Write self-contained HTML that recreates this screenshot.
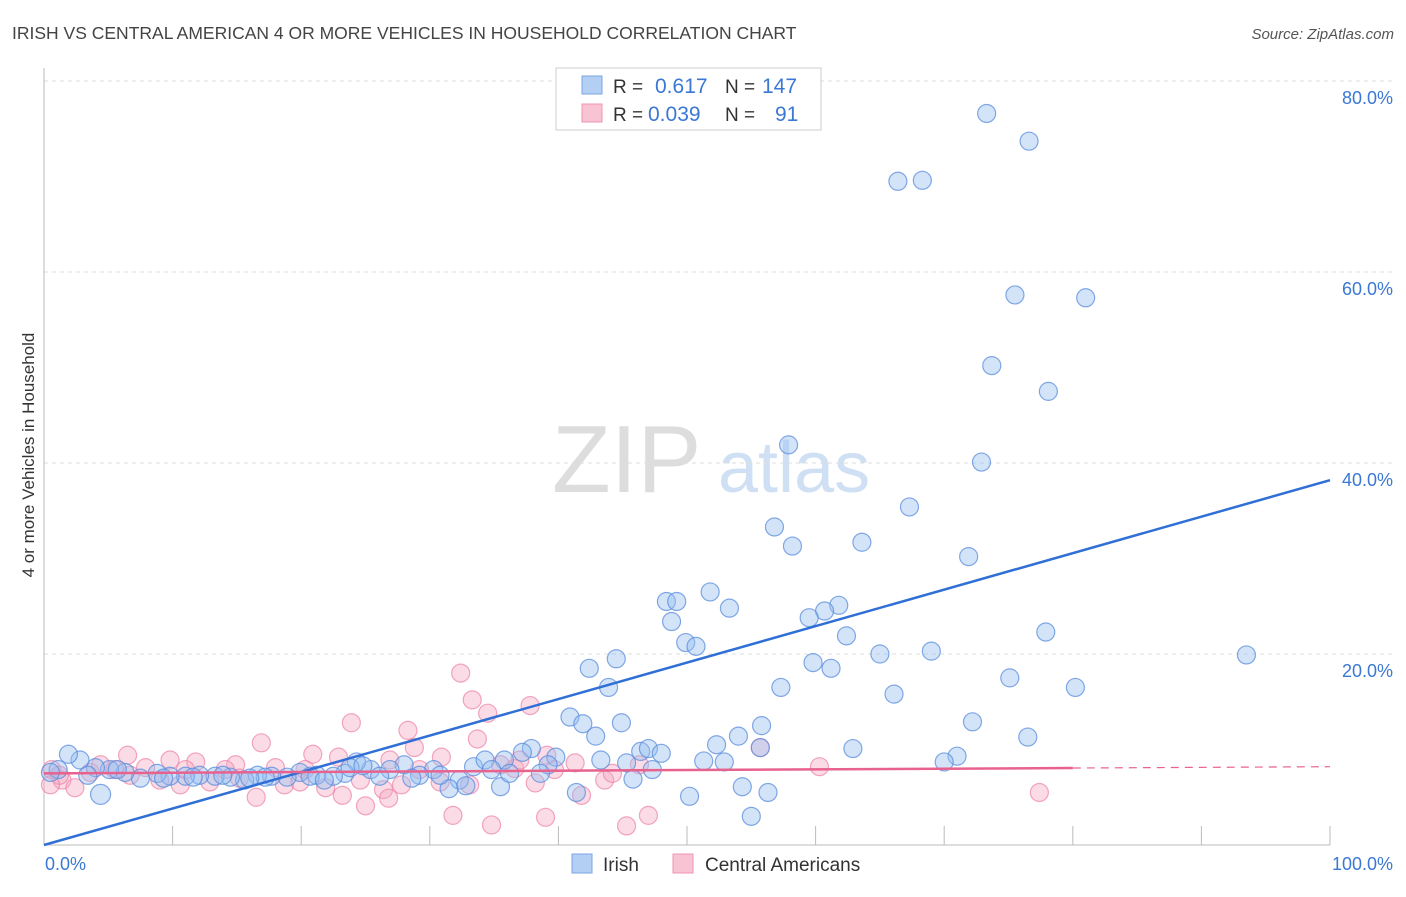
<!DOCTYPE html>
<html><head><meta charset="utf-8"><style>
body{margin:0;background:#fff;font-family:"Liberation Sans",sans-serif;}
svg text{font-family:"Liberation Sans",sans-serif;}
</style></head><body>
<svg id="chart" width="1406" height="892" viewBox="0 0 1406 892" xmlns="http://www.w3.org/2000/svg">
<text x="12" y="39" font-size="17.5" fill="#444">IRISH VS CENTRAL AMERICAN 4 OR MORE VEHICLES IN HOUSEHOLD CORRELATION CHART</text>
<text x="1394" y="39" font-size="15" fill="#555" text-anchor="end" font-style="italic">Source: ZipAtlas.com</text>
<text transform="translate(34,455) rotate(-90)" font-size="17" fill="#333" text-anchor="middle">4 or more Vehicles in Household</text>
<g>
<text x="552" y="492" font-size="96" fill="#ddd" font-family="Liberation Serif, serif">ZIP</text>
<text x="718" y="492" font-size="72" fill="#cfe0f4">atlas</text>
</g>
<g id="grid"></g>
<g id="axes"></g>
<g id="pts"></g>
<g id="lines"></g>
<g>
<rect x="556" y="68" width="265" height="62" fill="#fff" stroke="#ccc"/>
<rect x="582" y="76" width="20" height="18" fill="#b3cff4" stroke="#7ba6e4"/>
<text x="613" y="93" font-size="19" fill="#333">R =</text>
<text x="655" y="93" font-size="21" fill="#3a78d4">0.617</text>
<text x="725" y="93" font-size="19" fill="#333">N =</text>
<text x="762" y="93" font-size="21" fill="#3a78d4">147</text>
<rect x="582" y="104" width="20" height="18" fill="#f8c3d2" stroke="#f096b2"/>
<text x="613" y="121" font-size="19" fill="#333">R =</text>
<text x="648" y="121" font-size="21" fill="#3a78d4">0.039</text>
<text x="725" y="121" font-size="19" fill="#333">N =</text>
<text x="775" y="121" font-size="21" fill="#3a78d4">91</text>
</g>
<g>
<rect x="572" y="854" width="20" height="19" fill="#b3cff4" stroke="#7ba6e4"/>
<text x="603" y="871" font-size="19" fill="#333">Irish</text>
<rect x="673" y="854" width="20" height="19" fill="#f8c3d2" stroke="#f096b2"/>
<text x="705" y="871" font-size="19" fill="#333">Central Americans</text>
</g>
</svg>
<script>
const yTicks=[20,40,60,80];
const yTickLabels=["20.0%","40.0%","60.0%","80.0%"];
const xTicks=[10,20,30,40,50,60,70,80,90,100];
const irishX=[73.3,76.6,66.4,68.3,75.5,81.0,73.7,78.1,57.9,72.9,67.3,56.8,58.2,63.6,71.9,51.8,48.4,49.2,53.3,61.8,60.7,48.8,59.5,62.4,77.9,49.9,50.7,44.5,42.4,65.0,69.0,93.5,59.8,61.2,75.1,43.9,57.3,66.1,80.2,40.9,41.9,44.9,55.8,72.2,42.9,54.0,76.5,52.3,46.4,47.0,48.0,62.9,55.7,71.0,70.0,51.3,52.9,43.3,45.3,47.3,45.8,54.3,56.3,50.2,41.4,55.0,35.8,37.9,37.2,39.8,39.2,35.5,33.4,34.3,34.8,32.3,31.5,32.8,36.2,38.6,30.3,29.2,28.0,26.9,25.4,24.3,23.4,22.5,21.2,19.9,18.9,17.7,16.6,15.6,14.5,13.3,12.1,11.0,9.8,8.8,7.5,6.3,5.1,4.4,4.0,2.8,1.9,1.1,0.5,3.4,5.7,9.3,11.6,13.9,17.2,20.7,26.1,28.6,30.8,21.8,23.8,24.8,16.0];
const irishY=[76.6,73.7,69.5,69.6,57.6,57.3,50.2,47.5,41.9,40.1,35.4,33.3,31.3,31.7,30.2,26.5,25.5,25.5,24.8,25.1,24.5,23.4,23.8,21.9,22.3,21.2,20.8,19.5,18.5,20.0,20.3,19.9,19.1,18.5,17.5,16.5,16.5,15.8,16.5,13.4,12.7,12.8,12.5,12.9,11.4,11.4,11.3,10.5,9.8,10.1,9.6,10.1,10.2,9.3,8.7,8.8,8.7,8.9,8.6,7.9,6.9,6.1,5.5,5.1,5.5,3.0,8.9,10.1,9.7,9.2,8.4,6.1,8.2,8.9,7.9,6.8,5.9,6.2,7.5,7.5,7.9,7.3,8.4,7.9,7.9,8.7,7.5,7.2,7.3,7.6,7.1,7.2,7.3,6.8,7.1,7.2,7.3,7.2,7.2,7.5,7.0,7.6,7.9,5.3,8.1,8.9,9.5,7.9,7.6,7.3,7.9,7.0,7.1,7.3,7.1,7.2,7.2,7.0,7.3,6.8,8.1,8.3,7.0];
const camX=[32.4,33.3,34.5,37.8,23.9,28.3,33.7,16.9,6.5,28.8,55.7,20.9,22.9,30.9,35.5,39.1,9.8,11.8,14.9,18.0,20.3,26.9,41.3,60.3,46.3,36.6,0.6,1.4,2.4,1.2,3.6,6.7,9.0,10.6,12.9,15.2,18.7,21.9,24.6,26.4,27.8,30.8,33.1,38.2,43.6,16.5,23.2,26.8,25.0,41.8,31.8,34.8,39.0,45.3,47.0,77.4,4.4,5.5,7.9,14.1,11.0,19.9,29.2,39.7,37.0,44.2,0.5];
const camY=[18.0,15.2,13.8,14.6,12.8,12.0,11.1,10.7,9.4,10.2,10.2,9.5,9.2,9.2,8.4,9.4,8.9,8.7,8.4,8.1,7.9,8.9,8.6,8.2,8.4,8.0,7.9,6.8,6.0,7.3,7.6,7.3,6.8,6.3,6.6,7.0,6.3,6.0,6.8,5.8,6.3,6.6,6.3,6.5,6.8,5.0,5.2,4.9,4.1,5.2,3.1,2.1,2.9,2.0,3.1,5.5,8.4,7.9,8.1,7.9,7.9,6.6,7.9,7.9,8.9,7.5,6.3];
const irishFit=[0,38.2];
const camFit=[7.5,8.2];
const X0=44,X1=1330,Y0=845,PY=9.55;
const sx=v=>X0+(X1-X0)*v/100;
const sy=v=>Y0-PY*v;
const NS="http://www.w3.org/2000/svg";
function mk(tag,attrs,parent){const e=document.createElementNS(NS,tag);for(const k in attrs)e.setAttribute(k,attrs[k]);parent.appendChild(e);return e;}
const grid=document.getElementById('grid'),axes=document.getElementById('axes'),pts=document.getElementById('pts'),lines=document.getElementById('lines');
yTicks.forEach((t,i)=>{
 const l=mk('line',{x1:X0,x2:1394,y1:sy(t),y2:sy(t),stroke:'#ddd','stroke-dasharray':'4,4'},grid);
 
 
 const tx=mk('text',{x:1393,y:sy(t)+23,'font-size':18,fill:'#3a78d4','text-anchor':'end'},grid);
 tx.textContent=yTickLabels[i];
 
 
});
const ya=mk('line',{x1:X0,x2:X0,y1:68,y2:Y0,stroke:'#bbb'},axes);


const xa=mk('line',{x1:X0,x2:X1,y1:Y0,y2:Y0,stroke:'#bbb'},axes);


xTicks.forEach(t=>{
 const l=mk('line',{x1:sx(t),x2:sx(t),y1:Y0-19,y2:Y0,stroke:'#bbb'},axes);
 
 
});
const xl0=mk('text',{x:45,y:870,'font-size':18,fill:'#3a78d4'},axes);xl0.textContent='0.0%';


const xl1=mk('text',{x:1393,y:870,'font-size':18,fill:'#3a78d4','text-anchor':'end'},axes);xl1.textContent='100.0%';


camX.forEach((x,i)=>{
 const c=mk('circle',{cx:sx(x),cy:sy(camY[i]),r:9,fill:'rgba(246,168,192,0.4)',stroke:'rgba(236,130,165,0.7)','stroke-width':1.2},pts);
 
 
});
irishX.forEach((x,i)=>{
 const c=mk('circle',{cx:sx(x),cy:sy(irishY[i]),r:(x<5&&irishY[i]<6)?10:9,fill:'rgba(150,190,240,0.42)',stroke:'rgba(90,140,220,0.75)','stroke-width':1.2},pts);
 
 
});
const bl=mk('line',{x1:sx(0),y1:sy(irishFit[0]),x2:sx(100),y2:sy(irishFit[1]),stroke:'#2f6fd6','stroke-width':2.5},lines);


const camAt=v=>camFit[0]+(camFit[1]-camFit[0])*v/100;
const pl=mk('line',{x1:sx(0),y1:sy(camAt(0)),x2:sx(80),y2:sy(camAt(80)),stroke:'#e8628e','stroke-width':2.5},lines);


const pd=mk('line',{x1:sx(80),y1:sy(camAt(80)),x2:sx(100),y2:sy(camAt(100)),stroke:'#e8628e','stroke-width':1.2,'stroke-dasharray':'8,6'},lines);


</script>
</body></html>
